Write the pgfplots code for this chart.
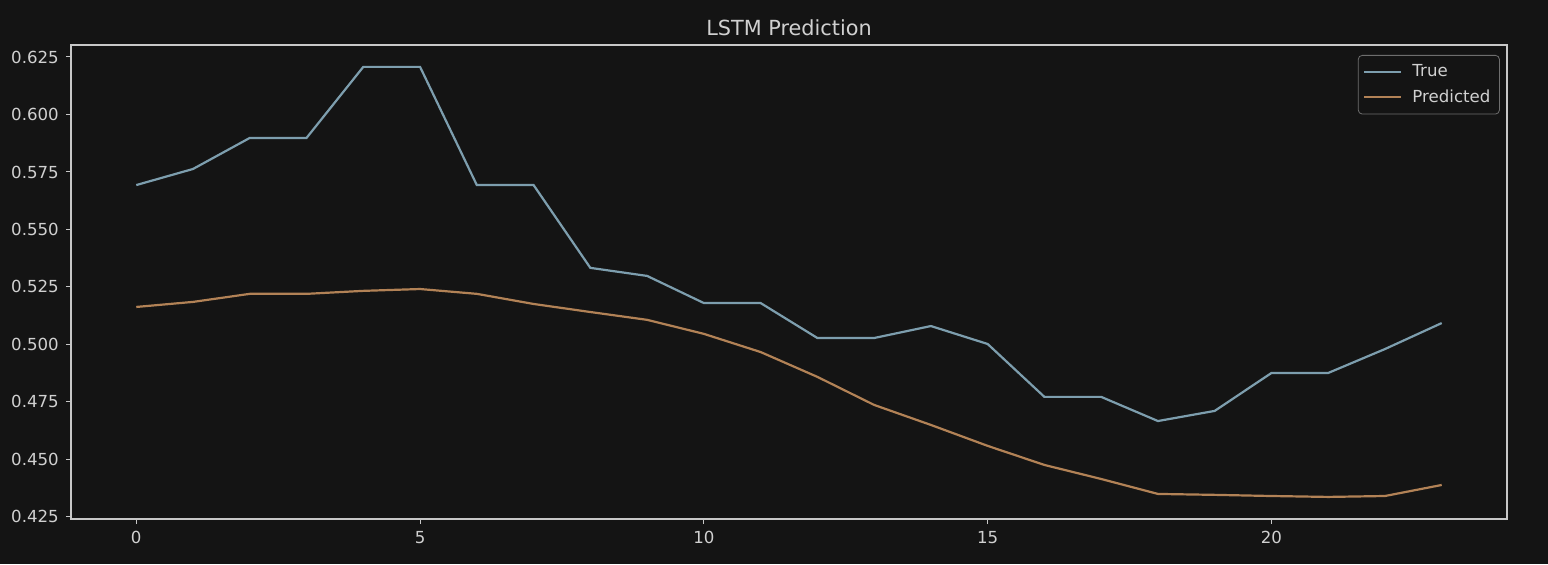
\documentclass[border=0pt]{standalone}
\usepackage{pgfplots}
\pgfplotsset{compat=1.18}
\usepackage{fontspec}
\setmainfont{DejaVu Sans}
\definecolor{bg}{HTML}{141414}
\definecolor{fg}{HTML}{D0D0D0}
\definecolor{frame}{HTML}{C8C8C8}
\definecolor{ctrue}{RGB}{125,158,174}
\definecolor{cpred}{RGB}{178,130,86}
\begin{document}
\begin{tikzpicture}
\fill[bg] (-35.5pt,-22.5pt) rectangle (738.5pt,259.5pt);
\begin{axis}[
  scale only axis,
  width=718pt, height=237pt,
  xmin=-1.15, xmax=24.15,
  ymin=0.4241, ymax=0.6302,
  xtick={0,5,10,15,20},
  ytick={0.425,0.450,0.475,0.500,0.525,0.550,0.575,0.600,0.625},
  yticklabel style={/pgf/number format/.cd,fixed,fixed zerofill,precision=3},
  /pgf/number format/assume math mode=true,
  ticklabel style={font=\fontsize{8.3}{10}\selectfont, text=fg},
  xtick pos=bottom, ytick pos=left,
  tick align=outside,
  major tick length=2.6pt,
  tick style={frame, line width=0.5pt},
  axis line style={frame, line width=0.6pt},
  title={LSTM Prediction},
  title style={font=\fontsize{10.4}{12}\selectfont, text=fg, yshift=-5pt},
  legend style={at={(0.995,0.979)}, anchor=north east, fill=bg, draw=frame!50!bg,
    rounded corners=2pt, text=fg, font=\fontsize{8.3}{10}\selectfont,
    row sep=1pt, column sep=3pt, inner sep=2.5pt},
  legend cell align=left,
  legend image code/.code={\draw[#1] (0cm,0cm) -- (18.5pt,0cm);},
  axis background/.style={fill=bg},
]
\addplot[ctrue, line width=1.1pt] coordinates {
(0,0.5693) (1,0.5763) (2,0.5898) (3,0.5898) (4,0.6207) (5,0.6207)
(6,0.5693) (7,0.5693) (8,0.5333) (9,0.5298) (10,0.5180) (11,0.5180)
(12,0.5028) (13,0.5028) (14,0.5080) (15,0.5002) (16,0.4772) (17,0.4772)
(18,0.4667) (19,0.4711) (20,0.4876) (21,0.4876) (22,0.4980) (23,0.5093)
};
\addlegendentry{True}
\addplot[cpred, line width=1.1pt] coordinates {
(0,0.5163) (1,0.5185) (2,0.5220) (3,0.5220) (4,0.5233) (5,0.5241)
(6,0.5220) (7,0.5176) (8,0.5141) (9,0.5107) (10,0.5046) (11,0.4967)
(12,0.4859) (13,0.4737) (14,0.4650) (15,0.4559) (16,0.4476) (17,0.4415)
(18,0.4350) (19,0.4346) (20,0.4341) (21,0.4337) (22,0.4341) (23,0.4389)
};
\addlegendentry{Predicted}
\end{axis}
\pgfresetboundingbox
\path (-35.5pt,-22.5pt) rectangle (738.5pt,259.5pt);
\end{tikzpicture}
\end{document}
